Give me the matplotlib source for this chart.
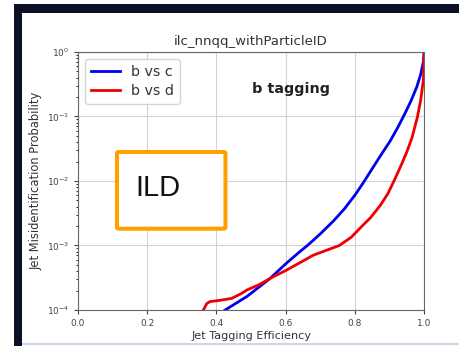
import matplotlib
matplotlib.use("Agg")
import matplotlib.pyplot as plt
from matplotlib.patches import Rectangle, FancyBboxPatch
import numpy as np

""" Data """
# efficiency vs log10(mistag rate)
eff_bc = [0.425, 0.449, 0.488, 0.536, 0.555, 0.603, 0.64, 0.665, 0.70, 0.738,
          0.77, 0.80, 0.824, 0.85, 0.875, 0.902, 0.925, 0.945, 0.962, 0.979,
          0.99, 0.998, 1.0]
log_bc = [-4.0, -3.92, -3.79, -3.59, -3.51, -3.27, -3.10, -2.99, -2.82, -2.62,
          -2.43, -2.22, -2.03, -1.81, -1.60, -1.38, -1.16, -0.95, -0.76, -0.54,
          -0.35, -0.15, 0.0]

eff_bd = [0.362, 0.372, 0.381, 0.41, 0.444, 0.47, 0.488, 0.526, 0.555, 0.603,
          0.64, 0.68, 0.72, 0.755, 0.79, 0.815, 0.845, 0.873, 0.895, 0.913,
          0.935, 0.95, 0.965, 0.981, 0.99, 0.998, 1.0]
log_bd = [-4.0, -3.9, -3.87, -3.85, -3.82, -3.75, -3.69, -3.60, -3.51, -3.38,
          -3.27, -3.15, -3.07, -3.0, -2.87, -2.73, -2.57, -2.38, -2.20, -2.0,
          -1.74, -1.55, -1.33, -1.0, -0.75, -0.43, 0.0]

series = ["b vs c", "b vs d"]
xticks = [0.0, 0.2, 0.4, 0.6, 0.8, 1.0]

""" Figure """
fig = plt.figure(figsize=(4.59, 3.46), dpi=100)
fig.patch.set_facecolor("white")

# slide frame
navy = "#0b1026"
fig.patches.append(Rectangle((0.0305, 0.9624), 1.0, 0.026, transform=fig.transFigure,
                             facecolor=navy, edgecolor="none", zorder=0))
fig.patches.append(Rectangle((0.0305, 0.0), 0.0174, 0.9884, transform=fig.transFigure,
                             facecolor=navy, edgecolor="none", zorder=0))
fig.patches.append(Rectangle((0.048, 0.004), 1.0, 0.004, transform=fig.transFigure,
                             facecolor="#cdd7e6", edgecolor="none", zorder=0))

ax = fig.add_axes([0.170, 0.104, 0.754, 0.746])
ax.plot(eff_bc, 10 ** np.array(log_bc), color="#0000ee", lw=2.0, label=series[0])
ax.plot(eff_bd, 10 ** np.array(log_bd), color="#ee0000", lw=2.0, label=series[1])

ax.set_yscale("log")
ax.set_xlim(0, 1)
ax.set_ylim(1e-4, 1)
ax.set_xticks(xticks)
ax.grid(True, which="major", color="#d3d3d3", lw=0.8)
ax.tick_params(labelsize=6.5, colors="#444444", length=3)
ax.tick_params(which="minor", length=1.5)
for s in ax.spines.values():
    s.set_color("#666666")

ax.set_title("ilc_nnqq_withParticleID", fontsize=9.5, color="#333333", pad=5)
ax.set_xlabel("Jet Tagging Efficiency", fontsize=8.1, color="#333333", labelpad=2)
ax.set_ylabel("Jet Misidentification Probability", fontsize=8.3, color="#333333", labelpad=3)
ax.text(0.616, 0.267, "b tagging", fontsize=10.4, fontweight="bold",
        ha="center", va="center", color="#222222")

leg = ax.legend(loc="upper left", fontsize=10.3, handlelength=2.0,
                borderaxespad=0.5, labelspacing=0.4)
for t in leg.get_texts():
    t.set_color("#333333")

# detector label box
fig.patches.append(FancyBboxPatch((0.2549, 0.3390), 0.2363, 0.2217,
                                  boxstyle="round,pad=0,rounding_size=0.004",
                                  transform=fig.transFigure, facecolor="white",
                                  edgecolor="#ff9f00", lw=2.9, zorder=5))
fig.text(0.296, 0.4566, "ILD", fontsize=21, family="Liberation Sans",
         va="center", ha="left", color="#111111", zorder=6)

fig.savefig("out.png", dpi=100)
